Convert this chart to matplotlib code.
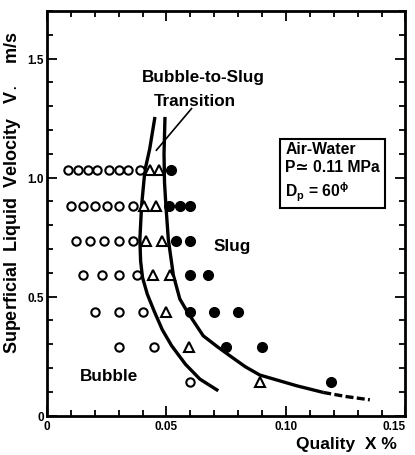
import matplotlib.pyplot as plt
from matplotlib.ticker import MultipleLocator, FixedLocator

plt.rcParams['font.family'] = ['Liberation Sans', 'DejaVu Sans']
plt.rcParams['font.weight'] = 'bold'
plt.rcParams['axes.labelweight'] = 'bold'
plt.rcParams['mathtext.fontset'] = 'custom'
plt.rcParams['mathtext.rm'] = 'Liberation Sans:bold'
plt.rcParams['mathtext.it'] = 'Liberation Sans:bold'

# data (quality %, velocity m/s)
bubble_x = [0.009, 0.013, 0.017, 0.021, 0.026, 0.030, 0.034, 0.039,
            0.010, 0.015, 0.020, 0.025, 0.030, 0.036,
            0.012, 0.018, 0.024, 0.030, 0.036,
            0.015, 0.023, 0.030, 0.0375,
            0.020, 0.030, 0.040,
            0.030, 0.045,
            0.060]
bubble_v = [1.03] * 8 + [0.88] * 6 + [0.735] * 5 + [0.59] * 4 + [0.435] * 3 + [0.29] * 2 + [0.14]

trans_x = [0.043, 0.047, 0.0405, 0.0455, 0.0415, 0.048, 0.0445, 0.0515, 0.050, 0.0595, 0.089]
trans_v = [1.03, 1.03, 0.88, 0.88, 0.735, 0.735, 0.59, 0.59, 0.435, 0.29, 0.14]

slug_x = [0.052, 0.051, 0.0555, 0.060, 0.054, 0.060, 0.060, 0.0675,
          0.060, 0.070, 0.080, 0.075, 0.090, 0.119]
slug_v = [1.03, 0.88, 0.88, 0.88, 0.735, 0.735, 0.59, 0.59,
          0.435, 0.435, 0.435, 0.29, 0.29, 0.142]

# transition boundaries (hand drawn in the original)
left_x = [0.0452, 0.0430, 0.0410, 0.0396, 0.0389, 0.0392, 0.0400, 0.0420,
          0.0449, 0.0483, 0.0522, 0.0580, 0.0640, 0.0717]
left_v = [1.255, 1.12, 1.03, 0.88, 0.74, 0.65, 0.58, 0.51,
          0.438, 0.36, 0.293, 0.215, 0.153, 0.104]
right_x = [0.0494, 0.0490, 0.0492, 0.0498, 0.0508, 0.0529, 0.0556, 0.0588,
           0.0654, 0.0712, 0.0760, 0.0830, 0.0891, 0.1045, 0.1156]
right_v = [1.255, 1.10, 0.98, 0.88, 0.74, 0.59, 0.49, 0.435,
           0.335, 0.290, 0.255, 0.205, 0.170, 0.125, 0.097]
ext_x = [0.1156, 0.1250, 0.1351]
ext_v = [0.097, 0.080, 0.066]

fig = plt.figure(figsize=(4.15, 4.56), dpi=100)
ax = fig.add_axes([0.113, 0.0866, 0.864, 0.887])

ax.plot(left_x, left_v, color='black', lw=2.4, solid_capstyle='butt', solid_joinstyle='round')
ax.plot(right_x, right_v, color='black', lw=2.4, solid_capstyle='butt', solid_joinstyle='round')
ax.plot(ext_x, ext_v, color='black', lw=2.4, ls=(0, (2.4, 1)))

ax.plot(bubble_x, bubble_v, 'o', ms=6, mfc='white', mec='black', mew=1.5, ls='none')
ax.plot(trans_x, trans_v, '^', ms=6.5, mfc='white', mec='black', mew=1.5, ls='none')
ax.plot(slug_x, slug_v, 'o', ms=7, mfc='black', mec='black', ls='none')

ax.plot([0.0605, 0.0458], [1.29, 1.115], color='black', lw=1.2)

ax.text(0.0655, 1.425, 'Bubble-to-Slug', ha='center', va='center', fontsize=12.3)
ax.text(0.062, 1.325, 'Transition', ha='center', va='center', fontsize=12.3)
ax.text(0.0775, 0.715, 'Slug', ha='center', va='center', fontsize=12.3)
ax.text(0.0258, 0.17, 'Bubble', ha='center', va='center', fontsize=12.3)

ax.text(0.0997, 1.025, 'Air-Water\nP\u2243 0.11 MPa\nD$_\\mathrm{p}$ = 60$^{\\phi}$',
        ha='left', va='center', fontsize=11.3, linespacing=1.3,
        bbox=dict(boxstyle='square,pad=0.35', fc='white', ec='black', lw=1.5))

ax.set_xlim(0, 0.15)
ax.set_ylim(0, 1.7)
ax.xaxis.set_major_locator(FixedLocator([0, 0.05, 0.10, 0.15]))
ax.set_xticklabels(['0', '0.05', '0.10', '0.15'])
ax.xaxis.set_minor_locator(MultipleLocator(0.01))
ax.yaxis.set_major_locator(FixedLocator([0, 0.5, 1.0, 1.5]))
ax.set_yticklabels(['0', '0.5', '1.0', '1.5'])
ax.yaxis.set_minor_locator(MultipleLocator(0.1))
ax.tick_params(which='both', direction='in', top=True, right=True, width=1.3, labelsize=8.5)
ax.tick_params(axis='y', pad=2)
ax.tick_params(which='major', length=7)
ax.tick_params(which='minor', length=4)
ax.get_xticklabels()[-1].set_horizontalalignment('right')
ax.get_xticklabels()[-1].set_x(0.1512)
for s in ax.spines.values():
    s.set_linewidth(2)

ax.set_ylabel('Superficial  Liquid  Velocity   V$_\\bullet$    m/s', fontsize=13, va='center')
ax.yaxis.set_label_coords(-0.095, 0.555)
ax.set_xlabel('Quality  X %', fontsize=12.5, va='center', ha='right')
ax.xaxis.set_label_coords(0.977, -0.07)

plt.savefig('out.png', dpi=100)
